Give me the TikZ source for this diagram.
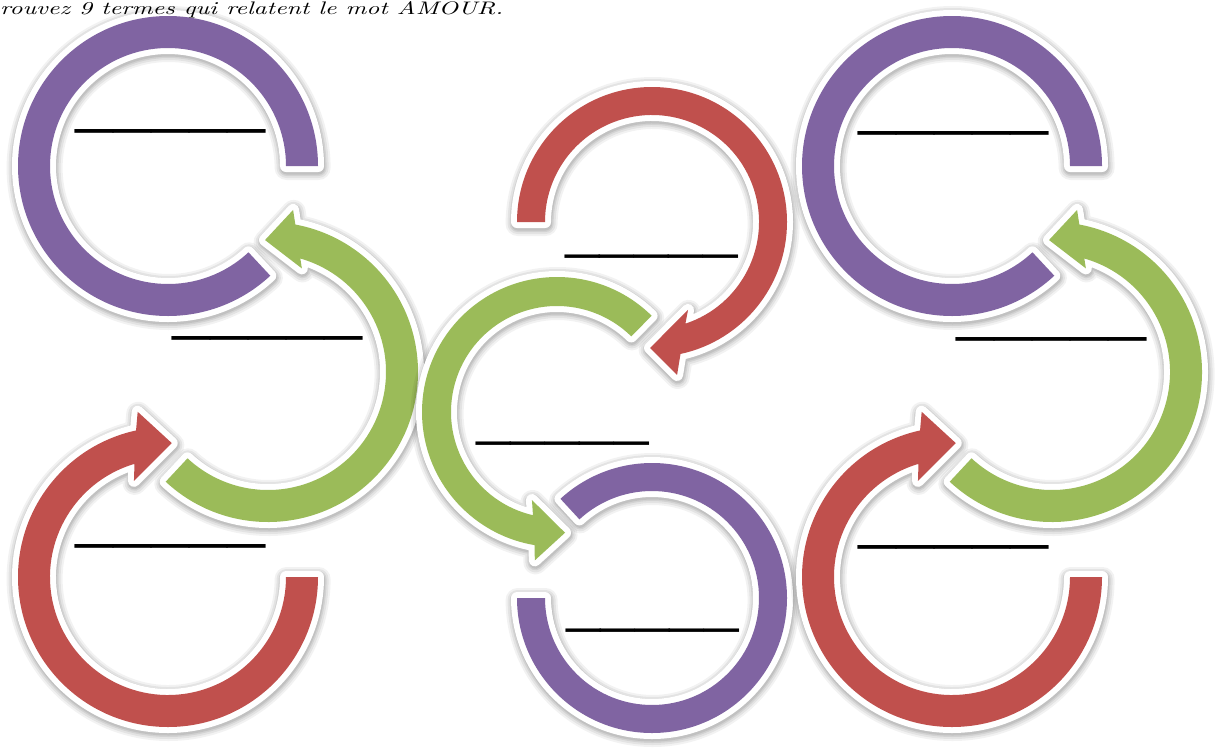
\documentclass[tikz,border=0pt]{standalone}
\usepackage{fontspec}
\usepackage{graphicx}
\newfontfamily\blankfont{Liberation Serif}
\definecolor{ringpurple}{HTML}{8064A2}
\definecolor{ringgreen}{HTML}{9BBB59}
\definecolor{ringred}{HTML}{C0504D}
\tikzset{
  blankwide/.style={inner sep=0pt, anchor=base west,
    font=\blankfont\fontsize{76}{76}\selectfont},
  blanknarrow/.style={inner sep=0pt, anchor=base west,
    font=\blankfont\fontsize{69}{69}\selectfont},
  heading/.style={inner sep=0pt, anchor=base west},
}
% one ring or circular arrow: soft shadow, white rim, coloured body
\newcommand\ringshape[3]{%
  \begin{scope}[shift={(#2)}]
    \foreach \w/\o in {24/0.05,20/0.06,16/0.07,13/0.08}
      {\draw[black, opacity=\o, line width=\w pt, line join=round, shift={(0.6,-2)}] #3;}
    \draw[white, fill=white, line width=12pt, line join=round] #3;
    \fill[#1] #3;
  \end{scope}}
\newcommand\blankline{\textunderscore\textunderscore\textunderscore\textunderscore\textunderscore}
\begin{document}
\begin{tikzpicture}[x=1pt, y=1pt]
\fill[white] (0,0) rectangle (1217,-747);
\useasboundingbox (0,0) rectangle (1217,-747);

% ---- left column ----
\ringshape{ringpurple}{168,-166}{(0:150) arc[start angle=0, end angle=313, radius=150] -- (313:118) arc[start angle=313, end angle=0, radius=118] -- cycle}
\ringshape{ringgreen}{268,-372}{(227:150) arc[start angle=227, end angle=439.5, radius=150] -- (441.2:164) -- (451.3:132) -- (431.9:109) -- (434.1:118) arc[start angle=434.1, end angle=227, radius=118] -- cycle}
\ringshape{ringred}{168,-577}{(0:150) arc[start angle=0, end angle=-257.7, radius=150] -- (-259.6:168) -- (-271.6:134) -- (-250.5:102) -- (-253.5:118) arc[start angle=-253.5, end angle=0, radius=118] -- cycle}

% ---- middle column ----
\ringshape{ringred}{652,-222}{(180:135) arc[start angle=180, end angle=-77.8, radius=135] -- (-80.7:155) -- (-90.9:126) -- (-67.7:95) -- (-71.8:107) arc[start angle=-71.8, end angle=180, radius=107] -- cycle}
\ringshape{ringgreen}{557,-412}{(45.5:135) arc[start angle=45.5, end angle=260.4, radius=135] -- (261.5:150) -- (273.8:121) -- (254.1:91.5) -- (256.9:106) arc[start angle=256.9, end angle=45.5, radius=106] -- cycle}
\ringshape{ringpurple}{652,-598}{(180:135) arc[start angle=180, end angle=492.7, radius=135] -- (492.7:107) arc[start angle=492.7, end angle=180, radius=107] -- cycle}

% ---- right column ----
\ringshape{ringpurple}{952,-166}{(0:150) arc[start angle=0, end angle=313, radius=150] -- (313:118) arc[start angle=313, end angle=0, radius=118] -- cycle}
\ringshape{ringgreen}{1052,-372}{(227:150) arc[start angle=227, end angle=439.5, radius=150] -- (441.2:164) -- (451.3:132) -- (431.9:109) -- (434.1:118) arc[start angle=434.1, end angle=227, radius=118] -- cycle}
\ringshape{ringred}{952,-577}{(0:150) arc[start angle=0, end angle=-257.7, radius=150] -- (-259.6:168) -- (-271.6:134) -- (-250.5:102) -- (-253.5:118) arc[start angle=-253.5, end angle=0, radius=118] -- cycle}

% ---- answer blanks ----
\node[blankwide]   (b1) at (75,-123.4)  {\blankline};
\node[blankwide]   (b2) at (172,-330.4) {\blankline};
\node[blankwide]   (b3) at (75,-538.4)  {\blankline};
\node[blanknarrow] (b4) at (565,-249.1) {\blankline};
\node[blanknarrow] (b5) at (476,-436.1) {\blankline};
\node[blanknarrow] (b6) at (566,-623.1) {\blankline};
\node[blankwide]   (b7) at (858,-125.4) {\blankline};
\node[blankwide]   (b8) at (956,-331.4) {\blankline};
\node[blankwide]   (b9) at (858,-539.4) {\blankline};

% ---- heading ----
\node[heading] (title) at (0,-14)
  {\resizebox{503pt}{13pt}{\itshape rouvez 9 termes qui relatent le mot AMOUR.}};
\end{tikzpicture}
\end{document}
